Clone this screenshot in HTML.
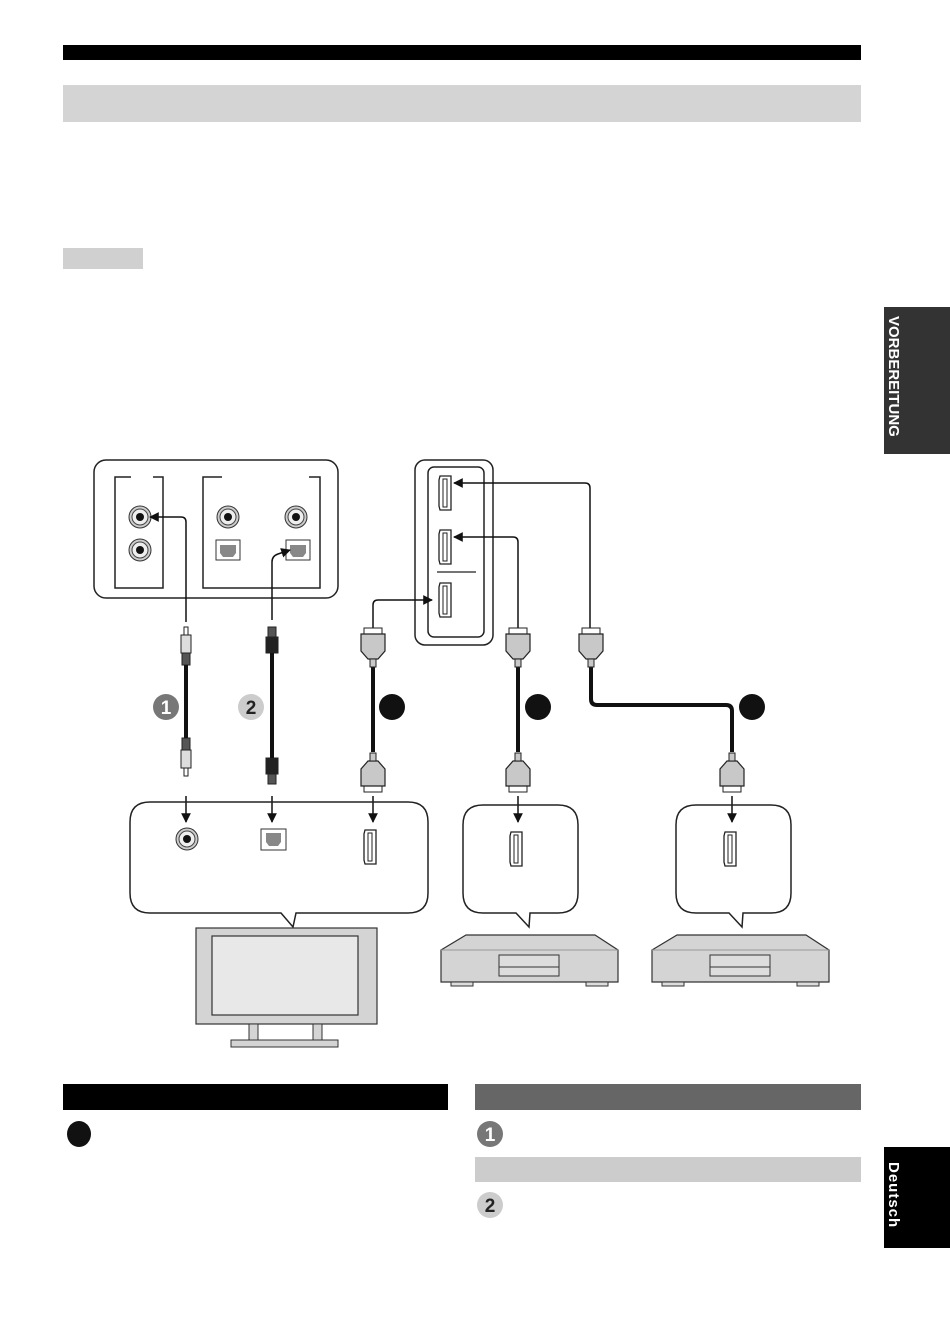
<!DOCTYPE html>
<html><head><meta charset="utf-8"><style>
html,body{margin:0;padding:0;background:#fff;}
svg{display:block;}
text{font-family:"Liberation Sans",sans-serif;}
</style></head><body>
<svg width="950" height="1342" viewBox="0 0 950 1342" xmlns="http://www.w3.org/2000/svg">
<defs>
 <marker id="ah" viewBox="0 0 10 10" refX="9" refY="5" markerWidth="6.5" markerHeight="6.5" orient="auto"><path d="M0,0 L10,5 L0,10 z" fill="#111"/></marker>
 <g id="plugT">
  <rect x="-9" y="0" width="18" height="6" fill="#fff" stroke="#222" stroke-width="1"/>
  <path d="M-12,6 H12 V23 L5,31 H-5 L-12,23 Z" fill="#c8c8c8" stroke="#222" stroke-width="1.2"/>
  <rect x="-3" y="31" width="6" height="8" fill="#c8c8c8" stroke="#222" stroke-width="1"/>
 </g>
 <g id="plugB">
  <rect x="-9" y="-6" width="18" height="6" fill="#fff" stroke="#222" stroke-width="1"/>
  <path d="M-12,-6 H12 V-23 L5,-31 H-5 L-12,-23 Z" fill="#c8c8c8" stroke="#222" stroke-width="1.2"/>
  <rect x="-3" y="-39" width="6" height="8" fill="#c8c8c8" stroke="#222" stroke-width="1"/>
 </g>
 <g id="hdmi">
  <path d="M-6,-17 H5 V17 H-6 L-7,13 V-13 Z" fill="#fff" stroke="#222" stroke-width="1.3"/>
  <rect x="-3" y="-14" width="4" height="28" fill="#fff" stroke="#222" stroke-width="1"/>
 </g>
 <g id="rca">
  <circle r="11" fill="#ccc" stroke="#333" stroke-width="1"/>
  <circle r="8" fill="#eee" stroke="#444" stroke-width="1"/>
  <circle r="4" fill="#111"/>
 </g>
 <g id="opt">
  <rect x="-12" y="-10" width="24" height="20" fill="#fff" stroke="#333" stroke-width="1"/>
  <path d="M-8,-5 H8 V3 L5,7 H-5 L-8,3 Z" fill="#888"/>
 </g>
 <g id="player">
  <path d="M0,15 L25,0 H154 L177,15 V47 H0 Z" fill="#d4d4d4" stroke="#333" stroke-width="1.2"/>
  <path d="M0,15 H177" stroke="#999" stroke-width="1"/>
  <rect x="58" y="20" width="60" height="21" fill="#ddd" stroke="#333" stroke-width="1"/>
  <line x1="58" y1="32" x2="118" y2="32" stroke="#333" stroke-width="1"/>
  <rect x="10" y="47" width="22" height="4" fill="#ddd" stroke="#333" stroke-width="1"/>
  <rect x="145" y="47" width="22" height="4" fill="#ddd" stroke="#333" stroke-width="1"/>
 </g>
</defs>

<rect x="63" y="45" width="798" height="15" fill="#000"/>
<rect x="63" y="85" width="798" height="37" fill="#d4d4d4"/>
<rect x="63" y="248" width="80" height="21" fill="#d0d0d0"/>

<rect x="884" y="307" width="66" height="147" fill="#333"/>
<text transform="translate(889,316) rotate(90)" fill="#fff" font-size="15" font-weight="bold">VORBEREITUNG</text>
<rect x="884" y="1147" width="66" height="101" fill="#000"/>
<text transform="translate(889,1162) rotate(90)" fill="#fff" font-size="15" font-weight="bold" letter-spacing="1">Deutsch</text>

<rect x="94" y="460" width="244" height="138" rx="12" fill="#fff" stroke="#222" stroke-width="1.5"/>
<path d="M131,477 H115 V588 H163 V477 H153" fill="none" stroke="#222" stroke-width="1.5"/>
<path d="M222,477 H203 V588 H320 V477 H309" fill="none" stroke="#222" stroke-width="1.5"/>
<use href="#rca" x="140" y="517"/>
<use href="#rca" x="140" y="550"/>
<use href="#rca" x="228" y="517"/>
<use href="#rca" x="296" y="517"/>
<use href="#opt" x="228" y="550"/>
<use href="#opt" x="298" y="550"/>

<rect x="415" y="460" width="78" height="185" rx="10" fill="#fff" stroke="#222" stroke-width="1.5"/>
<rect x="428" y="467" width="56" height="170" rx="6" fill="#fff" stroke="#222" stroke-width="1.5"/>
<line x1="437" y1="572" x2="476" y2="572" stroke="#222" stroke-width="1.3"/>
<use href="#hdmi" x="446" y="493"/>
<use href="#hdmi" x="446" y="547"/>
<use href="#hdmi" x="446" y="600"/>

<g fill="none" stroke="#111" stroke-width="1.5" marker-end="url(#ah)">
 <path d="M186,622 V522 Q186,517 181,517 H150"/>
 <path d="M272,620 V562 Q272,556 278,554 L290,550"/>
 <path d="M373,628 V605 Q373,600 378,600 H432"/>
 <path d="M518,628 V542 Q518,537 513,537 H454"/>
 <path d="M590,628 V488 Q590,483 585,483 H454"/>
</g>

<g stroke="#222" stroke-width="1">
 <rect x="184" y="627" width="4" height="8" fill="#fff"/>
 <rect x="181" y="635" width="10" height="18" fill="#ddd"/>
 <rect x="182" y="653" width="8" height="12" fill="#555"/>
 <rect x="182" y="738" width="8" height="12" fill="#555"/>
 <rect x="181" y="750" width="10" height="18" fill="#ddd"/>
 <rect x="184" y="768" width="4" height="8" fill="#fff"/>
</g>
<line x1="186" y1="665" x2="186" y2="738" stroke="#111" stroke-width="4"/>
<g stroke="#222" stroke-width="1">
 <rect x="268" y="627" width="8" height="10" fill="#555"/>
 <rect x="266" y="637" width="12" height="16" fill="#222"/>
 <rect x="266" y="758" width="12" height="16" fill="#222"/>
 <rect x="268" y="774" width="8" height="10" fill="#555"/>
</g>
<line x1="272" y1="653" x2="272" y2="758" stroke="#111" stroke-width="4"/>

<line x1="373" y1="667" x2="373" y2="752" stroke="#111" stroke-width="4"/>
<use href="#plugT" x="373" y="628"/>
<use href="#plugB" x="373" y="792"/>
<line x1="518" y1="667" x2="518" y2="752" stroke="#111" stroke-width="4"/>
<use href="#plugT" x="518" y="628"/>
<use href="#plugB" x="518" y="792"/>
<path d="M591,667 V699 Q591,705 597,705 H726 Q732,705 732,711 V752" fill="none" stroke="#111" stroke-width="4"/>
<use href="#plugT" x="591" y="628"/>
<use href="#plugB" x="732" y="792"/>

<circle cx="166" cy="707" r="13" fill="#777"/>
<text x="166" y="714" fill="#fff" font-size="19" font-weight="bold" text-anchor="middle">1</text>
<circle cx="251" cy="707" r="13" fill="#ccc"/>
<text x="251" y="714" fill="#222" font-size="19" font-weight="bold" text-anchor="middle">2</text>
<circle cx="392" cy="707" r="13" fill="#111"/>
<circle cx="538" cy="707" r="13" fill="#111"/>
<circle cx="752" cy="707" r="13" fill="#111"/>

<g fill="none" stroke="#111" stroke-width="1.5" marker-end="url(#ah)">
 <line x1="186" y1="796" x2="186" y2="822"/>
 <line x1="272" y1="796" x2="272" y2="822"/>
 <line x1="373" y1="796" x2="373" y2="822"/>
 <line x1="518" y1="796" x2="518" y2="822"/>
 <line x1="732" y1="796" x2="732" y2="822"/>
</g>

<path d="M150,802 H408 Q428,802 428,822 V893 Q428,913 408,913 H296 L293,927 L281,913 H150 Q130,913 130,893 V822 Q130,802 150,802 Z" fill="none" stroke="#222" stroke-width="1.5"/>
<use href="#rca" x="187" y="839"/>
<rect x="261" y="829" width="25" height="21" fill="#fff" stroke="#333" stroke-width="1"/>
<path d="M266,833 H281 V842 L278,846 H269 L266,842 Z" fill="#888"/>
<use href="#hdmi" x="371" y="847"/>

<path d="M483,805 H558 Q578,805 578,825 V893 Q578,913 558,913 H530 L529,927 L516,913 H483 Q463,913 463,893 V825 Q463,805 483,805 Z" fill="none" stroke="#222" stroke-width="1.5"/>
<use href="#hdmi" x="517" y="849"/>
<path d="M696,805 H771 Q791,805 791,825 V893 Q791,913 771,913 H743 L742,927 L729,913 H696 Q676,913 676,893 V825 Q676,805 696,805 Z" fill="none" stroke="#222" stroke-width="1.5"/>
<use href="#hdmi" x="731" y="849"/>

<rect x="196" y="928" width="181" height="96" fill="#d4d4d4" stroke="#333" stroke-width="1.2"/>
<rect x="212" y="936" width="146" height="79" fill="#e8e8e8" stroke="#333" stroke-width="1.2"/>
<rect x="249" y="1024" width="9" height="16" fill="#d4d4d4" stroke="#333" stroke-width="1"/>
<rect x="313" y="1024" width="9" height="16" fill="#d4d4d4" stroke="#333" stroke-width="1"/>
<rect x="231" y="1040" width="107" height="7" fill="#d4d4d4" stroke="#333" stroke-width="1"/>

<use href="#player" x="441" y="935"/>
<use href="#player" x="652" y="935"/>

<rect x="63" y="1084" width="385" height="26" fill="#000"/>
<ellipse cx="79" cy="1134" rx="12" ry="13" fill="#111"/>
<rect x="475" y="1084" width="386" height="26" fill="#666"/>
<circle cx="490" cy="1134" r="13" fill="#777"/>
<text x="490" y="1141" fill="#fff" font-size="19" font-weight="bold" text-anchor="middle">1</text>
<rect x="475" y="1157" width="386" height="25" fill="#ccc"/>
<circle cx="490" cy="1205" r="13" fill="#ccc"/>
<text x="490" y="1212" fill="#222" font-size="19" font-weight="bold" text-anchor="middle">2</text>
</svg>
</body></html>
